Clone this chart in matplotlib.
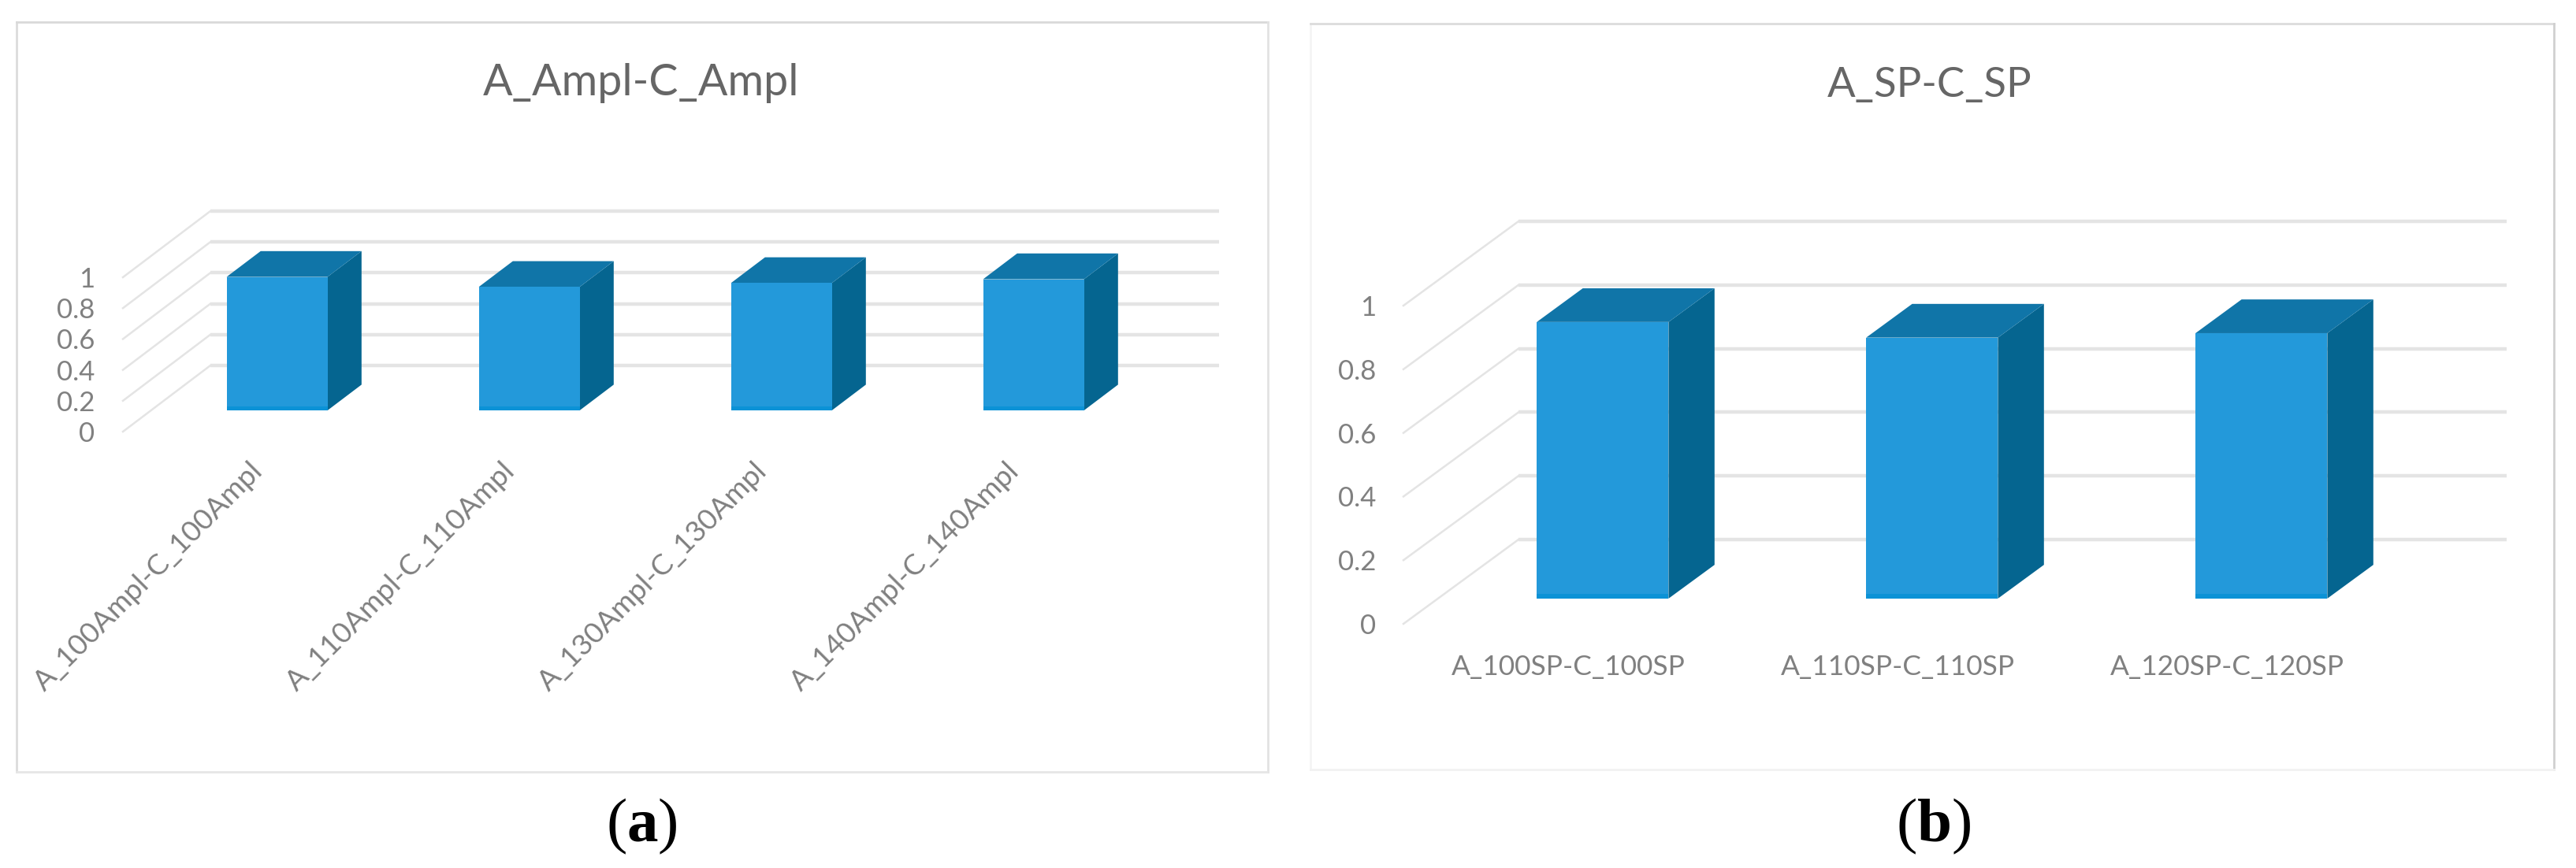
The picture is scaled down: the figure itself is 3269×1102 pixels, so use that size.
import matplotlib
matplotlib.use("Agg")
import matplotlib.pyplot as plt
from matplotlib.lines import Line2D
from matplotlib.patches import Polygon

W, H = 3269, 1102

plt.rcParams['font.family'] = ['Lato', 'DejaVu Sans']
plt.rcParams['mathtext.fontset'] = 'custom'
plt.rcParams['mathtext.bf'] = 'Liberation Serif:bold'
plt.rcParams['mathtext.rm'] = 'Liberation Serif'

# datos
title_a = "A_Ampl-C_Ampl"
cats_a = ["A_100Ampl-C_100Ampl", "A_110Ampl-C_110Ampl", "A_130Ampl-C_130Ampl", "A_140Ampl-C_140Ampl"]
vals_a = [0.865, 0.80, 0.825, 0.85]

title_b = "A_SP-C_SP"
cats_b = ["A_100SP-C_100SP", "A_110SP-C_110SP", "A_120SP-C_120SP"]
vals_b = [0.869, 0.82, 0.834]

ticks = [0, 0.2, 0.4, 0.6, 0.8, 1]
tick_labels = ["0", "0.2", "0.4", "0.6", "0.8", "1"]

FRONT = "#2399da"
BASE = "#0b92d6"
TOP = "#1075a8"
SIDE = "#056590"
GRID = "#e4e4e4"
TEXT = "#808080"


def make_axes(x0, x1, y_top, y_bottom):
    # posicion en pixeles de la imagen
    ax = fig.add_axes([x0 / W, 1 - y_bottom / H, (x1 - x0) / W, (y_bottom - y_top) / H])
    ax.patch.set_alpha(0)
    for s in ax.spines.values():
        s.set_visible(False)
    return ax


def draw_frame(x0, x1, y0, y1, colors):
    # cada lado del marco tiene un gris distinto: izq, arriba, der, abajo
    sides = [([x0, x0], [y0, y1]), ([x0, x1], [y0, y0]), ([x1, x1], [y0, y1]), ([x0, x1], [y1, y1])]
    for (xs, ys), c in zip(sides, colors):
        fig.add_artist(Line2D([x / W for x in xs], [1 - y / H for y in ys], transform=fig.transFigure,
                              color=c, linewidth=2))


def chart(ax, cats, vals, dx, dy, d0, d1, base_h, ypad, xpad, xfont, rot):
    n = len(cats)
    ax.set_xlim(-0.5, n - 0.5)
    ax.set_ylim(0, 1)

    # pasa de (categoria, valor, profundidad) a coordenadas del eje
    def proj(x, v, d):
        return (x + dx * d, v + dy * d)

    # rejilla
    for t in ticks:
        p0 = proj(-0.5, t, 0)
        p1 = proj(-0.5, t, 1)
        p2 = proj(n - 0.5, t, 1)
        ax.plot([p0[0], p1[0]], [p0[1], p1[1]], color=GRID, lw=1.8, clip_on=False, zorder=1)
        ax.plot([p1[0], p2[0]], [p1[1], p2[1]], color=GRID, lw=3.2, clip_on=False, zorder=1,
                solid_capstyle='butt')

    # barras
    w = 0.2
    for i, v in enumerate(vals):
        front = [proj(i - w, 0, d0), proj(i + w, 0, d0), proj(i + w, v, d0), proj(i - w, v, d0)]
        side = [proj(i + w, 0, d0), proj(i + w, 0, d1), proj(i + w, v, d1), proj(i + w, v, d0)]
        top = [proj(i - w, v, d0), proj(i + w, v, d0), proj(i + w, v, d1), proj(i - w, v, d1)]
        base = [proj(i - w, 0, d0), proj(i + w, 0, d0), proj(i + w, base_h, d0), proj(i - w, base_h, d0)]
        ax.add_patch(Polygon(side, facecolor=SIDE, edgecolor='none', clip_on=False, zorder=3))
        ax.add_patch(Polygon(top, facecolor=TOP, edgecolor='none', clip_on=False, zorder=3))
        ax.add_patch(Polygon(front, facecolor=FRONT, edgecolor='none', clip_on=False, zorder=4))
        ax.add_patch(Polygon(base, facecolor=BASE, edgecolor='none', clip_on=False, zorder=5))

    ax.set_yticks(ticks)
    ax.set_yticklabels(tick_labels, fontsize=25, color=TEXT)
    ax.tick_params(axis='y', length=0, pad=ypad)
    ax.set_xticks(range(n))
    if rot:
        ax.set_xticklabels(cats, fontsize=xfont, color=TEXT, rotation=rot, ha='right', rotation_mode='anchor')
    else:
        ax.set_xticklabels(cats, fontsize=xfont, color=TEXT)
    ax.tick_params(axis='x', length=0, pad=xpad)


fig = plt.figure(figsize=(W / 100, H / 100), dpi=100, facecolor='white')

# (a)
draw_frame(21, 1609, 28, 980, ["#dcdcdc", "#d9d9d9", "#e2e2e2", "#e6e6e6"])
ax_a = make_axes(156, 1436, 352, 548)
chart(ax_a, cats_a, vals_a, 111 / 320, 84 / 196, 0.32, 0.71, 0.025, 26, 24, 26.5, 45)
fig.text(814 / W, 1 - 121 / H, title_a, fontsize=40, color="#666666", ha='center', va='baseline')
fig.text(814 / W, 1 - 1068 / H, r"($\mathbf{a}$)", fontsize=57, family='Liberation Serif', color='black',
         ha='center', va='baseline')

# (b)
draw_frame(1663, 3241, 30, 977, ["#f4f4f4", "#dcdcdc", "#d0d0d0", "#f2f2f2"])
ax_b = make_axes(1781, 3035, 388, 792)
chart(ax_b, cats_b, vals_b, 146 / 418, 107 / 404, 0.30, 0.70, 0.014, 25, 28, 25.5, 0)
fig.text(2449 / W, 1 - 123 / H, title_b, fontsize=38, color="#666666", ha='center', va='baseline')
fig.text(2454 / W, 1 - 1068 / H, r"($\mathbf{b}$)", fontsize=57, family='Liberation Serif', color='black',
         ha='center', va='baseline')

fig.savefig("out.png", dpi=100)
